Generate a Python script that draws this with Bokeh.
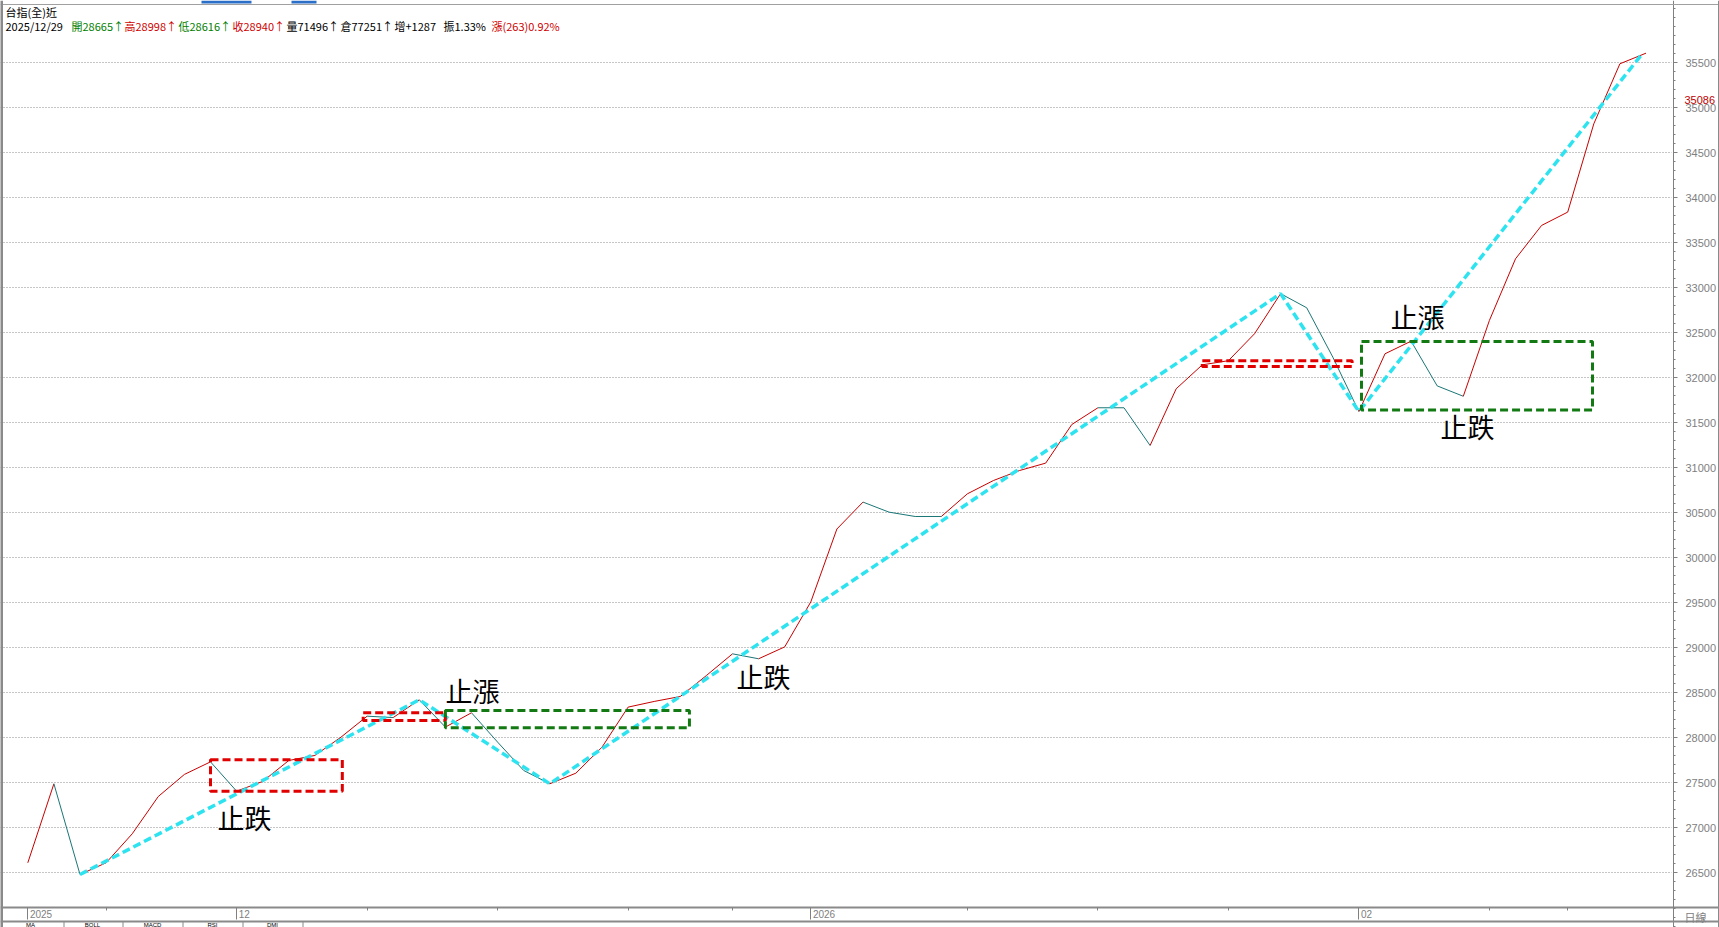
from bokeh.plotting import figure
from bokeh.models import (Range1d, LinearAxis, FixedTicker, Grid, Label, Span,
                          BoxAnnotation, ColumnDataSource)
from bokeh.core.properties import value
from bokeh.embed import file_html
from bokeh.resources import INLINE

# ---------------- data ----------------
close = [26611, 27489, 26481, 26611, 26933, 27348, 27593, 27733, 27407, 27515,
         27748, 27804, 28007, 28240, 28225, 28422, 28119, 28278, 27952, 27637,
         27489, 27607, 27896, 28341, 28404, 28459, 28692, 28933, 28878, 29010,
         29510, 30320, 30619, 30507, 30459, 30459, 30711, 30859, 30970, 31052,
         31481, 31667, 31667, 31248, 31878, 32144, 32190, 32489, 32935, 32778,
         32230, 31625, 32267, 32407, 31910, 31795, 32637, 33322, 33693, 33841,
         34822, 35489, 35607]
bar = list(range(len(close)))

trend_x = [2, 15, 20, 48, 51, 61.8]
trend_y = [26481, 28422, 27489, 32935, 31625, 35580]

box_left = [7.0, 12.85, 16.0, 45.0, 51.1]
box_right = [12.05, 16.0, 25.35, 50.74, 59.95]
box_bottom = [27407, 28192, 28111, 32125, 31641]
box_top = [27756, 28278, 28303, 32190, 32403]

note_text = ["止跌", "止漲", "止跌", "止漲", "止跌"]
note_x = [8.3, 17.04, 28.19, 53.25, 55.16]
note_y = [27114, 28526, 28681, 32681, 31459]

date_tick_pos = [0, 8, 30, 51]
date_tick_text = ["2025", "12", "2026", "02"]
week_tick_pos = [3, 13, 18, 23, 27, 36, 41, 46, 56, 59]

price_ticks = list(range(26500, 36000, 500))
price_minor = list(range(25500, 37000, 100))
last_price = 35086

title_text = "台指(全)近"
info_text = ["2025/12/29", "開28665↑", "高28998↑", "低28616↑", "收28940↑",
             "量71496↑", "倉77251↑", "增+1287", "振1.33%", "漲(263)0.92%"]
tab_text = ["MA", "BOLL", "MACD", "RSI", "DMI"]
period_text = "日線"

# ---------------- styles / layout ----------------
UP = "#C80000"
DOWN = "#1A7676"
CYAN = "#2EE3F0"
BOX_RED = "#E00000"
BOX_GREEN = "#137A13"
GRAY = "#808080"
box_colors = [BOX_RED, BOX_RED, BOX_GREEN, BOX_RED, BOX_GREEN]
info_colors = ["black", "#008000", "#D00000", "#008000", "#D00000",
               "black", "black", "black", "black", "#D00000"]
info_px = [5, 71, 124, 178, 232, 286, 340, 394, 443, 491]
tab_px = [30, 92, 152, 212, 272]
tab_sep_px = [63, 122, 182, 242, 302]

W, H = 1719, 927
AXIS_X_PX, AXIS_Y_PX = 1673, 907
DATE_FONT_PX = 10
# reference pixel geometry
BAR0_PX, BAR_STEP_PX = 27.3, 26.1
Y_REF_PX, Y_REF_VAL, PX_PER_UNIT = 872.3, 26500, 45.0 / 500


def px_to_x(px):
    return (px - BAR0_PX) / BAR_STEP_PX


def px_to_y(py):
    return Y_REF_VAL + (Y_REF_PX - py) / PX_PER_UNIT


p = figure(width=W, height=H, output_backend="svg", toolbar_location=None, tools="",
           x_range=Range1d(px_to_x(0), px_to_x(W)),
           y_range=Range1d(px_to_y(H), px_to_y(0)),
           x_axis_location=None, y_axis_location=None,
           min_border=0, min_border_left=0, min_border_top=0,
           min_border_right=0, min_border_bottom=0,
           background_fill_color="white", border_fill_color="white",
           outline_line_color=None)
for r in list(p.center):
    if isinstance(r, Grid):
        r.visible = False

# horizontal dotted grid
yticker = FixedTicker(ticks=price_ticks, minor_ticks=price_minor)
p.add_layout(Grid(dimension=1, ticker=yticker, grid_line_color="#8C8C8C",
                  grid_line_dash="1 2", grid_line_width=1))

# mask the scale column so the grid stops at the price scale
p.quad(left=[px_to_x(AXIS_X_PX - 2)], right=[px_to_x(W + 5)],
       bottom=[px_to_y(H + 5)], top=[px_to_y(-5)],
       fill_color="white", line_color=None)
# mask below the date strip
p.quad(left=[px_to_x(-5)], right=[px_to_x(W + 5)],
       bottom=[px_to_y(H + 5)], top=[px_to_y(AXIS_Y_PX)],
       fill_color="white", line_color=None)

# right price scale
yax = LinearAxis(ticker=yticker, fixed_location=px_to_x(AXIS_X_PX),
                 axis_line_color=GRAY, axis_line_width=1,
                 major_tick_line_color=GRAY, minor_tick_line_color=GRAY,
                 major_tick_out=4, major_tick_in=0, minor_tick_out=2, minor_tick_in=0,
                 major_label_standoff=8,
                 major_label_text_font="Liberation Sans",
                 major_label_text_font_size="11px",
                 major_label_text_color=GRAY)
p.add_layout(yax, "right")

# bottom date scale: tick marks
xax = LinearAxis(ticker=FixedTicker(ticks=date_tick_pos, minor_ticks=week_tick_pos),
                 fixed_location=px_to_y(AXIS_Y_PX),
                 major_label_overrides={k: "" for k in date_tick_pos},
                 axis_line_color="#8A8A8A", axis_line_width=2,
                 major_tick_line_color=GRAY, minor_tick_line_color=GRAY,
                 major_tick_out=12, major_tick_in=0, minor_tick_out=3, minor_tick_in=0,
                 major_label_text_font_size="1px")
p.add_layout(xax, "below")

# bottom date scale: labels sit just right of their tick mark
label_pos = [round(k + (2 + 0.56 * DATE_FONT_PX * len(t) / 2) / BAR_STEP_PX, 4)
             for k, t in zip(date_tick_pos, date_tick_text)]
xlab = LinearAxis(ticker=FixedTicker(ticks=label_pos, minor_ticks=[]),
                  fixed_location=px_to_y(AXIS_Y_PX),
                  major_label_overrides={k: t for k, t in zip(label_pos, date_tick_text)},
                  axis_line_color=None, major_tick_line_color=None, minor_tick_line_color=None,
                  major_tick_out=0, major_tick_in=0, minor_tick_out=0, minor_tick_in=0,
                  major_label_standoff=2,
                  major_label_text_font="Liberation Sans",
                  major_label_text_font_size=f"{DATE_FONT_PX}px",
                  major_label_text_color=GRAY)
p.add_layout(xlab, "below")

# window frame lines
p.add_layout(Span(location=px_to_y(921), dimension="width", line_color="#8A8A8A", line_width=2))
p.add_layout(Span(location=px_to_y(4), dimension="width", line_color="#A0A0A0", line_width=1))
p.add_layout(Span(location=px_to_x(1), dimension="height", line_color="#8A8A8A", line_width=3))
p.add_layout(Span(location=px_to_x(1718), dimension="height", line_color="#8A8A8A", line_width=1))
for sx in tab_sep_px:
    p.add_layout(BoxAnnotation(left=px_to_x(sx), right=px_to_x(sx + 1),
                               bottom=px_to_y(H), top=px_to_y(921),
                               fill_color="#8A8A8A", fill_alpha=1, line_color=None))
p.add_layout(BoxAnnotation(left=px_to_x(201), right=px_to_x(251), bottom=px_to_y(3), top=px_to_y(0),
                           fill_color="#2C6FC8", fill_alpha=1, line_color=None))
p.add_layout(BoxAnnotation(left=px_to_x(291), right=px_to_x(316), bottom=px_to_y(3), top=px_to_y(0),
                           fill_color="#2C6FC8", fill_alpha=1, line_color=None))

# price line, colored by direction
seg = ColumnDataSource(dict(
    x0=bar[:-1], y0=close[:-1], x1=bar[1:], y1=close[1:],
    c=[UP if b > a else DOWN for a, b in zip(close[:-1], close[1:])]))
p.segment("x0", "y0", "x1", "y1", source=seg, line_color="c", line_width=1)

# trend line
p.line(trend_x, trend_y, line_color=CYAN, line_width=3.5, line_dash="8 4")

# zones
p.quad(left=box_left, right=box_right, bottom=box_bottom, top=box_top,
       fill_alpha=0, line_color=box_colors, line_width=3, line_dash="8 4")

# notes
p.text(x=note_x, y=note_y, text=note_text, text_align="center", text_baseline="middle",
       text_font=value("Noto Sans CJK TC"), text_font_size="27px", text_color="black")

# header
p.add_layout(Label(x=px_to_x(5), y=px_to_y(3), text=title_text, text_baseline="top",
                   text_font="Noto Sans CJK TC", text_font_size="11px", text_color="black"))
for t, c, px in zip(info_text, info_colors, info_px):
    p.add_layout(Label(x=px_to_x(px), y=px_to_y(17), text=t, text_baseline="top",
                       text_font="Noto Sans CJK TC", text_font_size="11px", text_color=c))

# current price marker on the scale
p.add_layout(Label(x=px_to_x(1684), y=last_price, text=str(last_price), text_baseline="middle",
                   text_font="Liberation Sans", text_font_size="11px", text_color="#C00000",
                   background_fill_color="white"))
# period label
p.add_layout(Label(x=px_to_x(1684), y=px_to_y(908), text=period_text, text_baseline="top",
                   text_font="Noto Sans CJK TC", text_font_size="11px", text_color=GRAY))
# indicator tabs
for t, px in zip(tab_text, tab_px):
    p.add_layout(Label(x=px_to_x(px), y=px_to_y(921), text=t, text_baseline="top",
                       text_align="center", text_font="Liberation Sans",
                       text_font_size="6px", text_color="black"))

open("out.html", "w").write(file_html(p, INLINE))
